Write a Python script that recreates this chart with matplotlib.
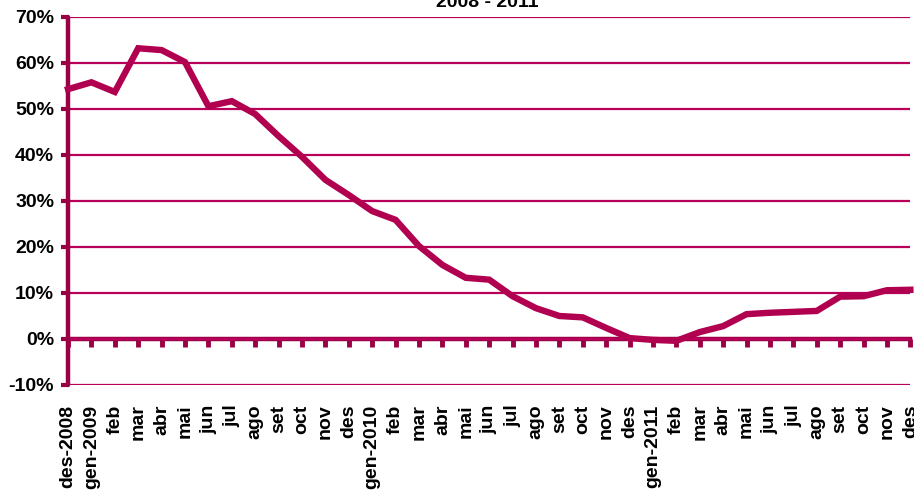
import matplotlib.pyplot as plt
from matplotlib.ticker import FuncFormatter

# monthly values, des-2008 .. des-2011 (percent)
months = ["des-2008", "gen-2009", "feb", "mar", "abr", "mai", "jun", "jul", "ago", "set", "oct", "nov", "des",
          "gen-2010", "feb", "mar", "abr", "mai", "jun", "jul", "ago", "set", "oct", "nov", "des",
          "gen-2011", "feb", "mar", "abr", "mai", "jun", "jul", "ago", "set", "oct", "nov", "des"]
values = [54.3, 55.8, 53.7, 63.2, 62.8, 60.2, 50.6, 51.7, 48.9, 44.1, 39.6, 34.6, 31.3,
          27.8, 25.9, 20.2, 16.1, 13.3, 12.9, 9.3, 6.7, 5.0, 4.7, 2.4, 0.2,
          -0.2, -0.4, 1.5, 2.8, 5.4, 5.7, 5.9, 6.1, 9.2, 9.3, 10.6, 10.7]
y_ticks = [-10, 0, 10, 20, 30, 40, 50, 60, 70]

LINE = "#B0004F"
AXIS = "#9A0046"
GRID = "#B8005A"

plt.rcParams["font.family"] = ["Liberation Sans", "DejaVu Sans"]
plt.rcParams["font.weight"] = "bold"

fig = plt.figure(figsize=(9.14, 4.92), dpi=100)
ax = fig.add_axes([0.0744, 0.2175, 0.9216, 0.748])

x = list(range(len(months)))
ax.plot(x, values, color=LINE, lw=4.6, solid_joinstyle="miter", zorder=4, clip_on=False)

ax.set_xlim(0, len(months) - 1)
ax.set_ylim(-10, 70)
ax.set_yticks(y_ticks)
ax.yaxis.set_major_formatter(FuncFormatter(lambda v, p: f"{v:.0f}%"))
ax.yaxis.grid(True, color=GRID, lw=1.6)
ax.set_axisbelow(True)

for s in ["top", "right", "bottom"]:
    ax.spines[s].set_visible(False)
ax.spines["left"].set_color(AXIS)
ax.spines["left"].set_linewidth(3.2)
ax.spines["left"].set_capstyle("round")

ax.tick_params(axis="y", length=5, width=3, color=AXIS, labelsize=14, pad=5)
ax.set_xticks(x)
ax.set_xticklabels(months, rotation=90, fontsize=14, fontweight="bold")
ax.tick_params(axis="x", length=0, pad=14)

# x axis crossing at 0%
zero_ax = ax.secondary_xaxis(10 / 80)
zero_ax.set_xticks(x)
zero_ax.set_xticklabels([])
zero_ax.tick_params(axis="x", direction="out", length=6, width=3.5, color=AXIS)
zero_ax.spines["bottom"].set_color(AXIS)
zero_ax.spines["bottom"].set_linewidth(3.2)
zero_ax.spines["bottom"].set_visible(True)

fig.text(0.533, 1 - 7 / 492, "2008 - 2011", ha="center", va="baseline", fontsize=14, fontweight="bold")

fig.savefig("out.png", dpi=100)
